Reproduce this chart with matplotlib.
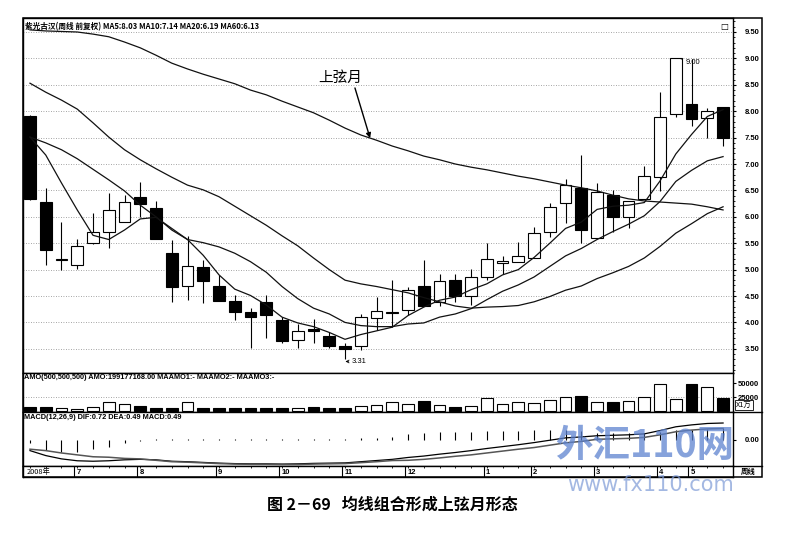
import matplotlib
matplotlib.use("Agg")
import matplotlib.pyplot as plt
from matplotlib.ticker import MultipleLocator, FixedLocator, FuncFormatter
from matplotlib.patches import Rectangle
from matplotlib.lines import Line2D
import numpy as np

CJK = ['Noto Sans CJK SC', 'DejaVu Sans']
NUM = ['Liberation Sans', 'DejaVu Sans']

# ---------------- data (weekly candles) ----------------
opens  = [7.91, 6.28, 5.19, 5.09, 5.50, 5.71, 5.90, 6.38, 6.17, 5.31,
          4.69, 5.05, 4.69, 4.41, 4.20, 4.39, 4.05, 3.67, 3.87, 3.74,
          3.55, 3.55, 4.08, 4.18, 4.23, 4.69, 4.39, 4.80, 4.50, 4.86,
          5.12, 5.14, 5.22, 5.71, 6.26, 6.55, 5.60, 6.41, 5.99, 6.34,
          6.75, 7.95, 8.14, 7.87, 8.08]
highs  = [7.93, 6.55, 5.90, 5.58, 6.07, 6.45, 6.41, 6.66, 6.30, 5.56,
          5.64, 5.18, 4.90, 4.52, 4.27, 4.52, 4.10, 3.97, 4.06, 3.82,
          3.61, 4.16, 4.48, 4.80, 4.67, 5.18, 4.92, 4.92, 5.01, 5.50,
          5.26, 5.52, 5.81, 6.26, 6.71, 7.17, 6.64, 6.50, 6.30, 6.96,
          8.36, 9.00, 8.98, 8.06, 8.08]
lows   = [6.32, 5.09, 4.99, 5.01, 5.48, 5.41, 5.90, 6.00, 5.58, 4.39,
          4.42, 4.37, 4.41, 4.05, 3.52, 3.70, 3.61, 3.52, 3.61, 3.52,
          3.31, 3.48, 3.86, 3.91, 4.14, 4.31, 4.31, 4.39, 4.33, 4.80,
          4.92, 5.14, 5.22, 5.62, 5.88, 5.50, 5.60, 5.71, 5.79, 6.34,
          6.49, 7.89, 7.72, 7.49, 7.34]
closes = [6.34, 5.37, 5.21, 5.45, 5.71, 6.13, 6.28, 6.24, 5.58, 4.67,
          5.07, 4.78, 4.41, 4.20, 4.10, 4.14, 3.65, 3.84, 3.84, 3.55,
          3.50, 4.10, 4.22, 4.18, 4.61, 4.31, 4.78, 4.50, 4.86, 5.20,
          5.16, 5.26, 5.69, 6.19, 6.60, 5.75, 6.47, 5.99, 6.30, 6.77,
          7.89, 9.00, 7.85, 8.00, 7.49]

ma5  = [7.51, 7.17, 6.64, 6.13, 5.65, 5.57, 5.75, 5.96, 5.99, 5.78,
        5.57, 5.27, 4.90, 4.63, 4.51, 4.33, 4.10, 3.99, 3.92, 3.81,
        3.68, 3.77, 3.84, 3.91, 4.13, 4.29, 4.42, 4.48, 4.62, 4.73,
        4.90, 5.00, 5.23, 5.50, 5.78, 5.90, 6.14, 6.20, 6.22, 6.27,
        6.68, 7.19, 7.56, 7.90, 8.03]
ma10 = [7.51, 7.40, 7.27, 7.10, 6.90, 6.70, 6.49, 6.22, 6.00, 5.75,
        5.57, 5.51, 5.43, 5.31, 5.15, 4.95, 4.68, 4.45, 4.27, 4.16,
        4.00, 3.94, 3.92, 3.92, 3.97, 3.99, 4.10, 4.16, 4.26, 4.43,
        4.59, 4.71, 4.86, 5.06, 5.26, 5.40, 5.57, 5.72, 5.86, 6.02,
        6.29, 6.67, 6.88, 7.06, 7.14]
ma20 = [8.53, 8.36, 8.21, 8.04, 7.78, 7.51, 7.27, 7.08, 6.91, 6.75,
        6.60, 6.51, 6.38, 6.20, 6.02, 5.84, 5.64, 5.45, 5.22, 5.00,
        4.80, 4.73, 4.68, 4.62, 4.56, 4.47, 4.39, 4.31, 4.27, 4.29,
        4.30, 4.32, 4.39, 4.49, 4.61, 4.69, 4.83, 4.94, 5.06, 5.22,
        5.44, 5.69, 5.87, 6.06, 6.19]
ma60 = [9.54, 9.52, 9.51, 9.50, 9.46, 9.41, 9.31, 9.20, 9.06, 8.91,
        8.80, 8.70, 8.61, 8.52, 8.40, 8.31, 8.19, 8.08, 7.97, 7.83,
        7.68, 7.55, 7.45, 7.34, 7.25, 7.15, 7.08, 7.00, 6.94, 6.89,
        6.83, 6.77, 6.72, 6.66, 6.60, 6.55, 6.49, 6.41, 6.34, 6.30,
        6.28, 6.26, 6.24, 6.19, 6.13]

amo = [7000, 7000, 5500, 3500, 7000, 16000, 12500, 9000, 5500, 5500,
       16000, 5500, 5000, 5000, 5000, 5500, 5000, 5000, 6500, 5000,
       5000, 9000, 11000, 16000, 12500, 18000, 10500, 7000, 9000, 23000,
       12500, 16000, 14500, 19500, 25000, 27000, 16000, 16000, 18000, 25000,
       48000, 21500, 48000, 43000, 23000]

dif = [-0.45, -0.66, -0.80, -0.88, -0.90, -0.88, -0.84, -0.82, -0.84, -0.90,
       -0.92, -0.95, -0.98, -1.00, -1.01, -1.01, -1.02, -1.01, -0.99, -0.98,
       -0.97, -0.92, -0.87, -0.82, -0.74, -0.68, -0.60, -0.53, -0.45, -0.36,
       -0.28, -0.20, -0.11, -0.01, 0.09, 0.13, 0.18, 0.20, 0.22, 0.26,
       0.40, 0.56, 0.64, 0.70, 0.72]
dea = [-0.39, -0.45, -0.55, -0.63, -0.71, -0.73, -0.78, -0.80, -0.86, -0.92,
       -0.94, -0.97, -1.00, -1.02, -1.03, -1.03, -1.04, -1.04, -1.02, -1.01,
       -1.00, -0.96, -0.92, -0.87, -0.86, -0.82, -0.76, -0.69, -0.63, -0.55,
       -0.47, -0.39, -0.32, -0.22, -0.12, -0.06, 0.03, 0.05, 0.07, 0.11,
       0.22, 0.35, 0.42, 0.47, 0.49]
macd_hist = [-0.13, -0.42, -0.50, -0.50, -0.38, -0.30, -0.13, -0.04, 0.04, 0.04,
             0.04, 0.05, 0.05, 0.05, 0.05, 0.05, 0.05, 0.06, 0.06, 0.06,
             0.06, 0.08, 0.10, 0.12, 0.24, 0.28, 0.32, 0.32, 0.36, 0.38,
             0.38, 0.38, 0.42, 0.42, 0.42, 0.38, 0.30, 0.30, 0.30, 0.30,
             0.36, 0.42, 0.44, 0.46, 0.49]

month_pos = [4, 8, 13, 17, 21, 25, 30, 33, 37, 41, 43]
month_lab = ['7', '8', '9', '10', '11', '12', '1', '2', '3', '4', '5']
price_ticks = [3.5, 4.0, 4.5, 5.0, 5.5, 6.0, 6.5, 7.0, 7.5, 8.0, 8.5, 9.0, 9.5]
amo_ticks = [25000, 50000]

header_main = "紫光古汉(周线 前复权) MA5:8.03 MA10:7.14 MA20:6.19 MA60:6.13"
header_amo = "AMO(500,500,500) AMO:199177168.00 MAAMO1:- MAAMO2:- MAAMO3:-"
header_macd = "MACD(12,26,9) DIF:0.72 DEA:0.49 MACD:0.49"
caption = "图 2－69   均线组合形成上弦月形态"

# ---------------- layout ----------------
W, H = 794, 538
fig = plt.figure(figsize=(W / 100, H / 100), dpi=100)
fig.patch.set_facecolor('white')


def box(l, t, r, b):
    return [l / W, 1 - b / H, (r - l) / W, (b - t) / H]


def fpt(x, y):
    return x / W, 1 - y / H


idx = np.arange(1, len(opens) + 1)
o = np.array(opens); c = np.array(closes)
hi = np.array(highs); lo = np.array(lows)
up = c >= o
fill = np.where(up, 'white', 'black')
XL = (0.556, 45.63)

ax = fig.add_axes(box(23, 18, 733, 373))
axv = fig.add_axes(box(23, 373, 733, 412))
axm = fig.add_axes(box(23, 412, 733, 466))
axd = fig.add_axes(box(23, 466, 733, 477))

for a in (ax, axv, axm, axd):
    a.set_xlim(*XL)
    a.set_xticks([])
    for s in a.spines.values():
        s.set_linewidth(1.0)
        s.set_color('black')

# ---- main price panel ----
ax.set_ylim(3.042, 9.765)
ax.vlines(idx, lo, hi, color='black', lw=0.8, zorder=2)
body_b = np.minimum(o, c)
body_h = np.maximum(np.abs(c - o), 0.012)
ax.bar(idx, body_h, bottom=body_b, width=0.74, color=fill,
       edgecolor='black', linewidth=0.8, zorder=3)
for m in (ma5, ma10, ma20, ma60):
    ax.plot(idx, m, color='#111111', lw=0.9, zorder=4)

ax.yaxis.tick_right()
ax.yaxis.set_major_locator(FixedLocator(price_ticks))
ax.yaxis.set_minor_locator(MultipleLocator(0.1))
ax.yaxis.set_major_formatter(FuncFormatter(lambda v, p: f"{v:.2f}"))
ax.tick_params(axis='y', which='major', length=2.5, width=0.8, pad=6,
               labelsize=5.5, labelfontfamily='Liberation Sans')
ax.tick_params(axis='y', which='minor', length=1.5, width=0.6)
for t in ax.get_yticklabels():
    t.set_fontweight('bold')
ax.grid(axis='y', which='major', linestyle=(0, (1, 2)), color='#888888', lw=0.6)
ax.set_axisbelow(True)

ax.text(0.003, 0.988, header_main, transform=ax.transAxes, ha='left', va='top',
        fontsize=5.5, family=CJK, fontweight='bold')
ax.text(0.993, 0.988, "□", transform=ax.transAxes, ha='right', va='top',
        fontsize=6, family=['DejaVu Sans'])

ax.text(20.68, 8.63, "上弦月", ha='center', va='center', fontsize=10.5,
        family=CJK, zorder=6)
ax.annotate('', xy=(22.59, 7.49), xytext=(21.63, 8.44),
            arrowprops=dict(arrowstyle='-|>', lw=1.0, color='black',
                            mutation_scale=7, shrinkA=0, shrinkB=0), zorder=6)
ax.annotate('9.00', xy=(42.25, 9.0), xytext=(42.6, 8.92), fontsize=5.5,
            family=NUM, ha='left', va='center',
            arrowprops=dict(arrowstyle='-', lw=0.6, color='black',
                            shrinkA=0, shrinkB=0))
ax.annotate('3.31', xy=(21.02, 3.26), xytext=(21.4, 3.26), fontsize=5.5,
            family=NUM, ha='left', va='center',
            arrowprops=dict(arrowstyle='->', lw=0.6, color='black',
                            shrinkA=0, shrinkB=0, mutation_scale=5))

# ---- AMO panel ----
u = 25000 / 14.0
axv.set_ylim(-1 * u, 38 * u)
axv.bar(idx, amo, width=0.74, color=fill, edgecolor='black', linewidth=0.8, zorder=3)
axv.yaxis.tick_right()
axv.yaxis.set_major_locator(FixedLocator(amo_ticks))
axv.yaxis.set_major_formatter(FuncFormatter(lambda v, p: f"{int(v)}"))
axv.tick_params(axis='y', which='major', length=2.5, width=0.8, pad=1.2,
                labelsize=5.5, labelfontfamily='Liberation Sans')
for t in axv.get_yticklabels():
    t.set_fontweight('bold')
axv.axhline(25000, linestyle=(0, (1, 2)), color='#888888', lw=0.6, zorder=1)
axv.text(0.002, 0.97, header_amo, transform=axv.transAxes, ha='left', va='top',
         fontsize=5.3, family=NUM, fontweight='bold')

# ---- MACD panel ----
axm.set_ylim(-26 / 23.6, 28 / 23.6)
axm.vlines(idx, 0, macd_hist, color='black', lw=0.8, zorder=2)
axm.plot(idx, dif, color='black', lw=0.9, zorder=3)
axm.plot(idx, dea, color='#555555', lw=1.1, zorder=3)
axm.yaxis.tick_right()
axm.yaxis.set_major_locator(FixedLocator([0.0]))
axm.yaxis.set_major_formatter(FuncFormatter(lambda v, p: f"{v:.2f}"))
axm.tick_params(axis='y', which='major', length=2.5, width=0.8, pad=6,
                labelsize=5.5, labelfontfamily='Liberation Sans')
for t in axm.get_yticklabels():
    t.set_fontweight('bold')
axm.text(0.002, 0.97, header_macd, transform=axm.transAxes, ha='left', va='top',
         fontsize=5.3, family=NUM, fontweight='bold')

# ---- date strip ----
axd.set_ylim(0, 1)
axd.set_yticks([])
axd.xaxis.set_ticks_position('top')
axd.set_xticks(idx)
axd.set_xticklabels([])
axd.tick_params(axis='x', direction='in', length=1.5, width=0.6)
axd.text(0.8, 0.45, "2008年", ha='left', va='center', fontsize=5.3, family=CJK)
for p, lab in zip(month_pos, month_lab):
    axd.vlines(p - 0.2, 0, 1, color='black', lw=0.8)
    axd.text(p - 0.05, 0.45, lab, ha='left', va='center', fontsize=5.5,
             family=NUM, fontweight='bold')

# ---- frame and right column ----
fig.add_artist(Rectangle(fpt(23, 477), 739 / W, 459 / H, transform=fig.transFigure,
                         fill=False, lw=1.1, color='black'))
fig.add_artist(Line2D([733 / W, 762 / W], [1 - 412 / H, 1 - 412 / H],
                      transform=fig.transFigure, color='black', lw=1.0))
fig.add_artist(Line2D([733 / W, 762 / W], [1 - 466 / H, 1 - 466 / H],
                      transform=fig.transFigure, color='black', lw=1.0))
x1, y1 = fpt(736, 405)
fig.text(x1, y1, "X1万", ha='left', va='center', fontsize=5.3, family=CJK,
         bbox=dict(boxstyle='square,pad=0.15', fc='white', ec='black', lw=0.6))
x2, y2 = fpt(748, 471.5)
fig.text(x2, y2, "周线", ha='center', va='center', fontsize=5.3, family=CJK,
         fontweight='bold')

# ---- watermark ----
xw, yw = fpt(645, 445)
fig.text(xw, yw, "外汇110网", ha='center', va='center', fontsize=27,
         family=CJK, fontweight='heavy', color='#5d83d0', alpha=0.75, zorder=10)
xw2, yw2 = fpt(650, 485)
fig.text(xw2, yw2, "www.fx110.com", ha='center', va='center', fontsize=15,
         family=['DejaVu Sans'], color='#7d9ad6', alpha=0.7, zorder=10)

# ---- caption ----
xc, yc = fpt(392, 505)
fig.text(xc, yc, caption, ha='center', va='center', fontsize=11.5, family=CJK,
         fontweight='bold')

fig.savefig("out.png", dpi=100, facecolor='white')
